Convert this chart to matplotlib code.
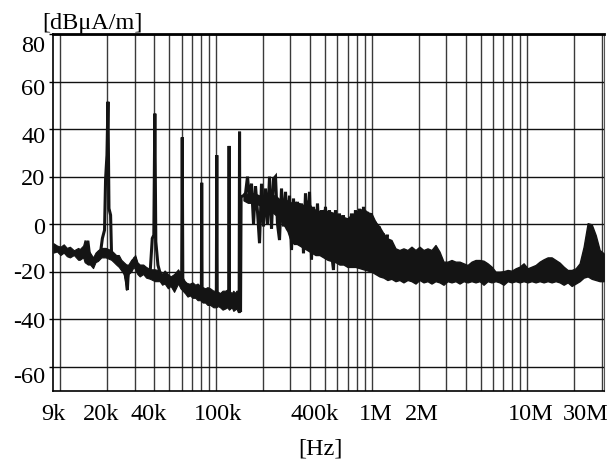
import matplotlib
matplotlib.use("Agg")
import matplotlib.pyplot as plt

plt.rcParams['font.family'] = ['Liberation Serif', 'DejaVu Serif']
plt.rcParams['axes.unicode_minus'] = False

# ---------------- data ----------------
# main trace: low-frequency baseline, harmonic spikes, oscillating region
trace_f = [9000, 9400, 9900, 10700, 11500, 12200, 13300, 14300, 15000, 15500,
           16200, 16600, 17400, 18000, 18600, 19200, 19500, 19900, 20200, 20500,
           21000, 21300, 21800, 22800, 23700, 24600, 25700, 26500, 26900, 27300,
           28500, 29300, 30200, 31100, 32300, 33900, 35500, 37600, 38900, 39800,
           40400, 41000, 42300, 43400, 45400, 46700, 49000, 51200, 53700, 55300,
           56900, 58700, 60100, 60600, 61100, 63200, 66200, 68200, 73500, 79100,
           80400, 80800, 81300, 85100, 91500, 95600, 100300, 101000, 101700, 106000,
           114500, 120500, 121200, 121900, 126300, 132000, 137900, 140600, 141400, 142300,
           143500, 144700,
           150000, 154500, 159100, 163900, 168800, 173900, 179100, 184500, 190000, 195700,
           201600, 207600, 213900, 220300, 226900, 233700, 240700, 247900, 255400, 263000,
           270900, 279100, 287400, 296100, 305000, 314100, 323500, 333200, 343200, 353500,
           364100, 375000, 386300, 397900, 409800, 422100, 434800, 447800, 461300, 475100,
           489300, 504000, 519100, 534700, 550800, 567300, 584300, 601800, 619900, 638500,
           657600, 677300, 697700, 718600, 740100, 762300, 785200, 808800, 833000, 858000,
           883800, 910300, 937600, 965700, 994700, 1024500, 1055000, 1087000, 1120000, 1153000,
           1188000, 1224000, 1260000]
trace_db = [-10, -10.5, -11.5, -11, -12, -12.5, -13, -12, -7, -15,
            -17, -15, -13, -13, -6, -2.5, 19, 29, 51.5, 6.6,
            3.8, -13, -14.4, -15, -15.8, -17, -19.5, -23, -27.7, -20,
            -18, -16, -14, -19, -20, -19, -21, -21.4, -6, -4.6,
            46.5, -7.4, -17.2, -20, -22.5, -21.5, -24, -24.5, -27, -24,
            -22, -21, -22, 36.5, -23, -27.7, -26, -28, -28.5, -29,
            -29, 17.4, -29.5, -30, -31.2, -32, -32.5, 29, -33, -33.3,
            -32.7, -33.5, 32.9, -33.5, -33, -34, -33, -31, 38.9, -30,
            -37, 11.5,
            12, 13, 20, 10, 17, 0, 16, 5, -8, 17,
            -1, 15, 0, 20, -2, 19, 20, 0, -6.7, 15,
            -1, 13.6, -2.5, 12, -10.9, 10.8, -8.8, 9.4, -3, 8.7,
            -12.3, 13, -5, 13.6, -15, 7.3, -8, 8.7, -10, 5.9,
            -13.7, 7.3, -10, 5.9, -12, -19.3, 5.9, -12, 4.5, -17,
            3.8, -15, 2.4, -18, 4.5, -16, 5.9, -17.9, 6.5, -17,
            7.3, -19, 5.2, -18, 4.5, -20, 1, -20, -1, -21,
            -3.9, -22, -5]

# noise band below 150 kHz (upper / lower edge)
lf_f = [9000, 9500, 10000, 10500, 11000, 11500, 12200, 13000, 13300, 14000,
        14300, 15000, 15500, 16200, 16800, 17400, 18300, 19500, 21200, 22000,
        22800, 23700, 24600, 25500, 26500, 27300, 28500, 29500, 30200, 31200,
        32300, 34000, 35500, 37600, 40400, 43400, 45000, 46700, 49000, 51000,
        53700, 57000, 59000, 63000, 65500, 68000, 70500, 73500, 76000, 79000,
        82000, 85000, 88000, 91500, 96000, 100000, 103000, 106000, 110000, 114500,
        118000, 121000, 126000, 129000, 132000, 135000, 138000, 142000]
lf_hi = [-8, -9, -9.5, -8.5, -10, -9.5, -11, -10, -10.5, -9,
         -6.7, -11, -12, -14, -12, -11, -10, -10, -11, -12,
         -13, -13, -15, -16, -17, -17, -15, -14, -13, -16,
         -17, -17, -18, -19, -19, -19.5, -21, -19.5, -21, -22,
         -21, -19, -21, -24, -25, -25, -24.5, -25.5, -25, -26,
         -26.5, -27, -26.5, -27, -28, -28, -28.5, -29, -28, -28,
         -27.5, -28, -29, -28, -29, -28, -28, -28]
lf_lo = [-12, -11.5, -13, -12, -13.5, -14, -13, -15, -15, -14,
         -16, -17, -17, -18.5, -16, -15.5, -14, -14, -15, -16,
         -17, -18, -19.5, -21, -27.7, -21, -20, -18, -19, -21,
         -22, -21, -22.5, -23, -24, -24, -25.5, -25, -27, -26,
         -28.5, -25, -27, -29, -30.5, -30, -31, -31, -32, -32,
         -33, -33, -34, -34, -35, -35, -34.5, -35, -36, -35.5,
         -35, -36, -35, -36.5, -36, -35.5, -37, -37]

# noise band above 150 kHz (upper / lower edge)
hf_f = [150e3, 160e3, 175e3, 190e3, 205e3, 220e3, 240e3, 260e3,
        287.4e3, 305e3, 323.5e3, 343.2e3, 364.1e3, 386.3e3, 409.8e3, 434.8e3, 461.3e3, 489.3e3,
        519.1e3, 550.8e3, 584.3e3, 619.9e3, 657.6e3, 697.7e3, 740.1e3, 785.2e3, 833e3, 883.8e3,
        937.6e3,
        994.7e3, 1055e3, 1120e3, 1188e3, 1260e3, 1337e3, 1419e3, 1505e3, 1597e3, 1695e3,
        1798e3, 1908e3, 2024e3, 2148e3, 2279e3, 2418e3, 2565e3, 2722e3, 2888e3, 3064e3,
        3251e3, 3449e3, 3660e3, 3883e3, 4120e3, 4371e3, 4638e3, 4921e3, 5221e3, 5540e3,
        5878e3, 6236e3, 6617e3, 7020e3, 7449e3, 7903e3, 8385e3, 8897e3, 9440e3, 10016e3,
        10627e3, 11275e3, 11963e3, 12693e3, 13467e3, 14289e3, 15160e3, 16085e3, 17067e3, 18108e3,
        19212e3, 20384e3, 21628e3, 22947e3, 24347e3, 25832e3, 27408e3, 29080e3, 30854e3]
hf_hi = [12, 13, 13, 12, 12, 12.5, 12, 10,
         10, 9, 9.4, 8.7, 8, 10, 7, 6, 5.5, 6,
         5.5, 5, 4.5, 4, 3, 2.4, 4, 5, 6, 6.5,
         5,
         4.5, 1.0, -1.1, -3.9, -6, -6.7, -10.2, -10.9, -10.2, -10.9,
         -9.5, -10.9, -9.5, -10.9, -10.2, -10.9, -8.8, -11.6, -15.8, -15.8,
         -15.1, -15.8, -15.8, -16.5, -17.2, -15.8, -15.1, -15.1, -15.4, -16.5,
         -17.9, -20, -20, -19.8, -19.3, -19.6, -18.6, -17.9, -16.5, -18.6,
         -17.9, -17.2, -15.8, -14.8, -14, -14, -15.1, -16.2, -17.9, -19.3,
         -19.3, -18.6, -16.5, -9.5, 0.4, -0.1, -4.6, -10.9, -12.3]
hf_lo = [10, 9, 9, 8, 7, 6, 4, 2,
         -3, -8, -8, -9, -10, -11, -12, -13, -13, -14,
         -15, -15.5, -16, -17, -17, -18, -18, -18, -18.5, -19,
         -19.5,
         -20, -21, -22, -22.5, -23.5, -23, -24, -23.5, -24.5, -23.5,
         -24, -25, -23.5, -24.5, -24, -25, -24, -24.5, -25.5, -24,
         -24.5, -24, -25, -24, -24.5, -24, -24.5, -24, -25.5, -24,
         -24.5, -24, -24.5, -25.5, -24, -24.5, -24, -24.5, -24, -24.5,
         -24, -24.5, -24, -24.5, -24, -24.5, -24, -24.5, -25.5, -24.5,
         -26, -25, -24, -22.5, -22, -23, -23.5, -24, -24]

x_tick_vals = [9e3, 2e4, 4e4, 1e5, 4e5, 1e6, 2e6, 1e7, 3e7]
x_tick_labels = ['9k', '20k', '40k', '100k', '400k', '1M', '2M', '10M', '30M']
y_tick_vals = [-60, -40, -20, 0, 20, 40, 60, 80]
y_tick_labels = ['-60', '-40', '-20', '0', '20', '40', '60', '80']

# ---------------- layout / style ----------------
W, H = 612, 462
fig = plt.figure(figsize=(W / 100, H / 100), dpi=100)
L, R, T, B = 53.3, 604, 34, 390.5
ax = fig.add_axes([L / W, 1 - B / H, (R - L) / W, (B - T) / H])
ax.set_xscale('log')
ax.set_xlim(9e3, 3.1e7)
ax.set_ylim(-70, 80)

ink = '#141414'
# vertical grid lines at every 1-2-...-9 step of each decade
for dec in [1e4, 1e5, 1e6, 1e7]:
    for m in range(1, 10):
        v = m * dec
        if 9.5e3 < v < 3.05e7:
            ax.axvline(v, color='#3a3a3a', lw=1.0, zorder=1)
for v in y_tick_vals:
    ax.axhline(v, color='#111111', lw=1.0, zorder=1)

ax.fill_between(lf_f, lf_lo, lf_hi, color=ink, lw=0.8, zorder=3)
ax.fill_between(hf_f, hf_lo, hf_hi, color=ink, lw=1.0, zorder=3)
ax.plot(trace_f, trace_db, color=ink, lw=2.2, zorder=4, solid_joinstyle='miter')

for s in ['left', 'bottom']:
    ax.spines[s].set_color('black')
    ax.spines[s].set_linewidth(1.2)
ax.spines['top'].set_color('black')
ax.spines['top'].set_linewidth(2.0)
ax.spines['right'].set_color('#555555')
ax.spines['right'].set_linewidth(0.8)

ax.set_xticks(x_tick_vals)
ax.set_xticklabels([])
ax.xaxis.set_minor_locator(matplotlib.ticker.NullLocator())
ax.tick_params(axis='x', length=0)
ax.set_yticks(y_tick_vals)
ax.set_yticklabels([])
ax.tick_params(axis='y', direction='out', length=3, width=1.0, color='black')

fs = 17.5
px = 0.72  # points per pixel at 100 dpi
x_lab_dx = [0, -6, -6, 2, 5, 4, 3, 3, -16]
for v, lab, dx in zip(x_tick_vals, x_tick_labels, x_lab_dx):
    ax.annotate(lab, xy=(v, 0), xycoords=('data', 'axes fraction'),
                xytext=(dx * px, -29.5 * px), textcoords='offset points',
                ha='center', va='baseline', fontsize=fs, color='black')

y_lab_dy = [8, 1, 0, 2, 1, 6, 6, 10]  # downward shift of label centre (px)
for v, lab, dy in zip(y_tick_vals, y_tick_labels, y_lab_dy):
    ax.annotate(lab, xy=(0, v), xycoords=('axes fraction', 'data'),
                xytext=(-7.8 * px, -(dy + 7.8) * px), textcoords='offset points',
                ha='right', va='baseline', fontsize=fs, color='black')

fig.text(42.7 / W, 1 - 29.5 / H, '[dBμA/m]', ha='left', va='baseline',
         fontsize=fs, color='black')
fig.text(320 / W, 1 - 455 / H, '[Hz]', ha='center', va='baseline',
         fontsize=fs, color='black')

fig.savefig('out.png', dpi=100)
